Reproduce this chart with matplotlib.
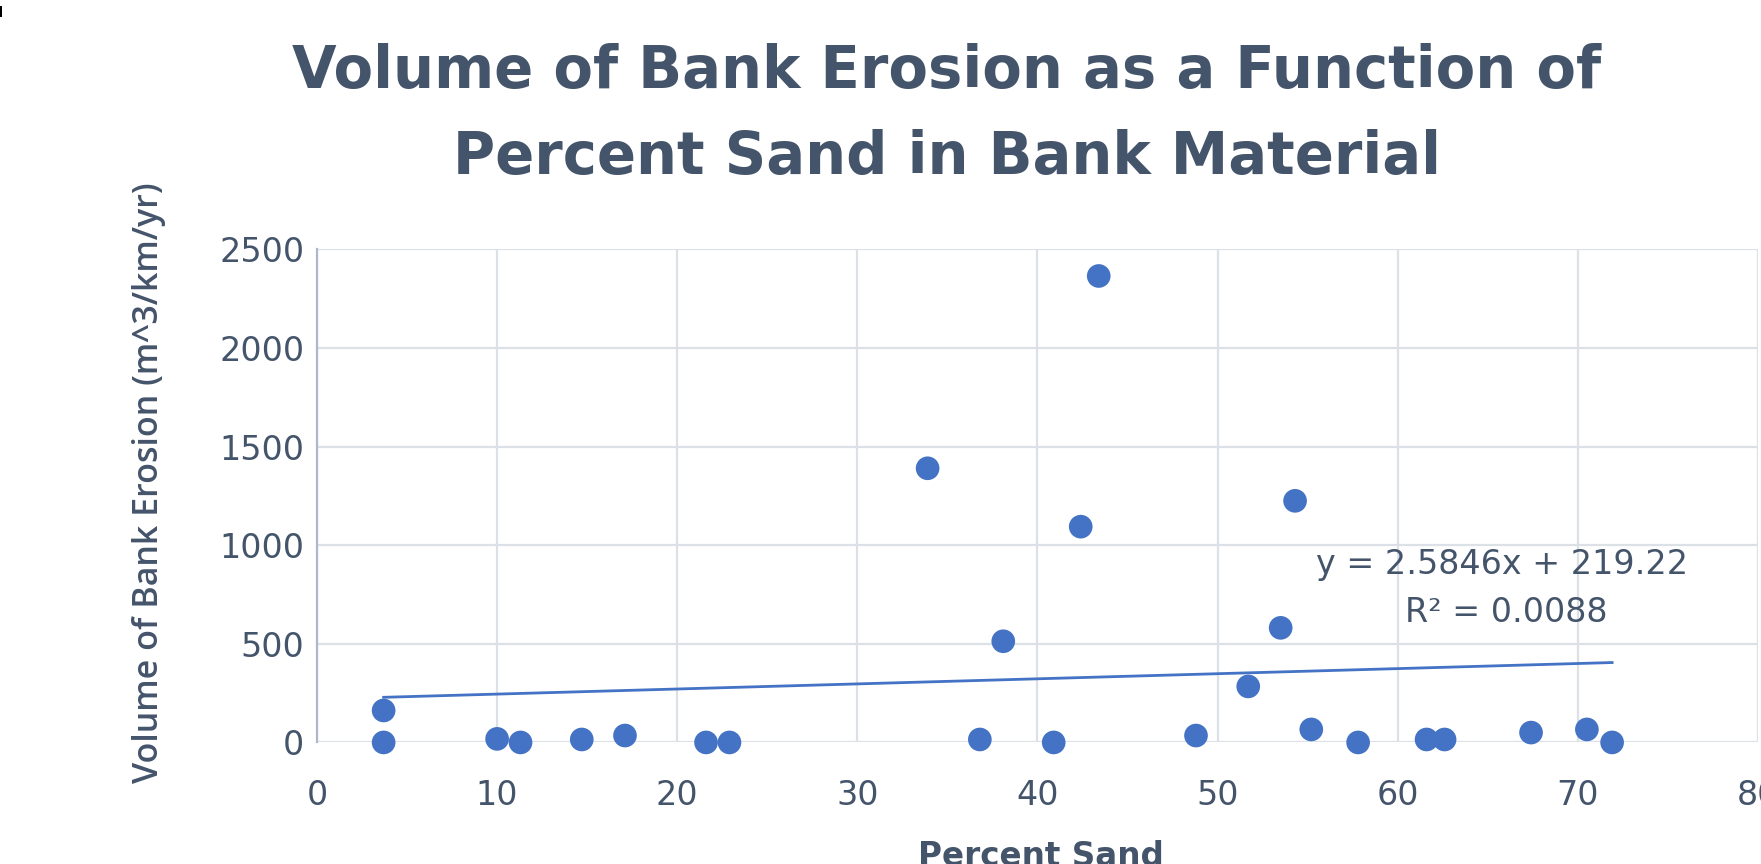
import numpy as np
import matplotlib.pyplot as plt
from matplotlib.patches import Rectangle

# Percent sand vs. bank erosion volume
pct_sand = [3.7, 3.7, 10.0, 11.3, 14.7, 17.1, 21.6, 22.9,
            33.9, 36.8, 38.1, 40.9, 42.4, 43.4, 48.8, 51.7,
            53.5, 54.3, 55.2, 57.8, 61.6, 62.6, 67.4, 70.5, 71.9]
erosion = [162, 0, 18, 0, 15, 35, 0, 0,
           1390, 15, 513, 0, 1094, 2365, 35, 284,
           581, 1225, 66, 0, 15, 15, 50, 66, 0]

# trendline from the label
slope = 2.5846
intercept = 219.22
r2 = 0.0088

x_ticks = [0, 10, 20, 30, 40, 50, 60, 70, 80]
y_ticks = [0, 500, 1000, 1500, 2000, 2500]

text_col = "#44546A"
dot_col = "#4472C4"
grid_col = "#DCE1E8"
wide = ['DejaVu Sans']

plt.rcParams['font.family'] = ['Open Sans', 'DejaVu Sans']

fig = plt.figure(figsize=(17.61, 8.64), dpi=100)
ax = fig.add_axes([0.1800, 0.1407, 0.8183, 0.5707])

ax.scatter(pct_sand, erosion, s=290, color=dot_col, edgecolors='none', zorder=3, clip_on=False)

xs = np.array([min(pct_sand), max(pct_sand)])
ax.plot(xs, slope * xs + intercept, color=dot_col, linewidth=2, zorder=2)

ax.text(65.8, 900, f"y = {slope}x + {intercept}", ha='center', va='center',
        fontsize=24, color=text_col, family=wide)
ax.text(66.0, 658, f"R² = {r2}", ha='center', va='center',
        fontsize=24, color=text_col, family=wide)

ax.set_xlim(0, 80)
ax.set_ylim(0, 2500)
ax.set_xticks(x_ticks)
ax.set_yticks(y_ticks)
ax.grid(True, color=grid_col, linewidth=1.6, zorder=0)
ax.set_axisbelow(True)
for side in ['top', 'right', 'bottom']:
    ax.spines[side].set_visible(False)
ax.spines['left'].set_color('#ADB9CA')
ax.spines['left'].set_linewidth(1.6)
ax.tick_params(axis='both', length=0, labelsize=24, colors=text_col)
ax.tick_params(axis='y', pad=9)
ax.tick_params(axis='x', pad=26)
for lbl in ax.get_xticklabels() + ax.get_yticklabels():
    lbl.set_family(wide)

fig.text(149 / 1761, 1 - 483 / 864, "Volume of Bank Erosion (m^3/km/yr)", rotation=90,
         ha='center', va='center', fontsize=24.5, fontweight='semibold', color=text_col)
fig.text(1041 / 1761, 1 - 840 / 864, "Percent Sand", ha='center', va='top',
         fontsize=23.5, fontweight='semibold', color=text_col, family=wide)

fig.text(947 / 1761, 1 - 88 / 864, "Volume of Bank Erosion as a Function of",
         ha='center', va='baseline', fontsize=41.5, fontweight='bold', color=text_col, family=wide)
fig.text(947 / 1761, 1 - 174 / 864, "Percent Sand in Bank Material",
         ha='center', va='baseline', fontsize=41.5, fontweight='bold', color=text_col, family=wide)

fig.patches.append(Rectangle((0, 1 - 17 / 864), 2 / 1761, 11 / 864, transform=fig.transFigure,
                             facecolor='black', edgecolor='none'))

fig.savefig('out.png', dpi=100)
